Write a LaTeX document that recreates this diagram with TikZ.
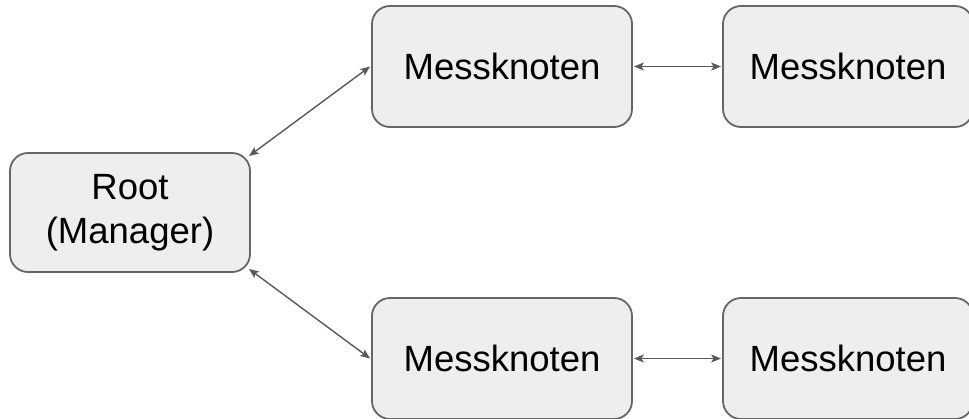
\documentclass[tikz,border=0pt]{standalone}
\usepackage{fontspec}
\setmainfont{Liberation Sans}
\usetikzlibrary{arrows.meta,calc}
\definecolor{boxfill}{HTML}{EEEEEE}
\definecolor{boxline}{HTML}{666666}
\definecolor{arrowline}{HTML}{595959}
\tikzset{
  box/.style={draw=boxline, fill=boxfill, line width=1.8pt, rounded corners=18pt,
    inner sep=0pt, align=center, font=\fontsize{36.5}{44}\selectfont},
  link/.style={draw=arrowline, line width=1.4pt,
    {Stealth[length=10pt,width=8pt,inset=2.5pt]}-{Stealth[length=10pt,width=8pt,inset=2.5pt]}}
}
\begin{document}
\begin{tikzpicture}[x=1pt,y=-1pt]
\useasboundingbox (0,0) rectangle (969,418);
\clip (0,0) rectangle (969,418);
\node[box, minimum width=240pt, minimum height=119pt] (root) at (130,212.5) {\raisebox{-3pt}{Root}\\\raisebox{-3pt}{(Manager)}};
\node[box, minimum width=260pt, minimum height=121pt] (m1) at (502,66.5) {Messknoten};
\node[box, minimum width=250pt, minimum height=121pt] (m2) at (848,66.5) {Messknoten};
\node[box, minimum width=260pt, minimum height=121pt] (m3) at (502,358.5) {Messknoten};
\node[box, minimum width=250pt, minimum height=121pt] (m4) at (848,358.5) {Messknoten};
\draw[link] ([shift={(-2,4)}]root.north east) -- ([shift={(-1,0)}]m1.west);
\draw[link] ([shift={(-2,-4)}]root.south east) -- ([shift={(-1,0)}]m3.west);
\draw[link] ([shift={(1,0)}]m1.east) -- ([shift={(-1,0)}]m2.west);
\draw[link] ([shift={(1,0)}]m3.east) -- ([shift={(-1,0)}]m4.west);
\end{tikzpicture}
\end{document}
